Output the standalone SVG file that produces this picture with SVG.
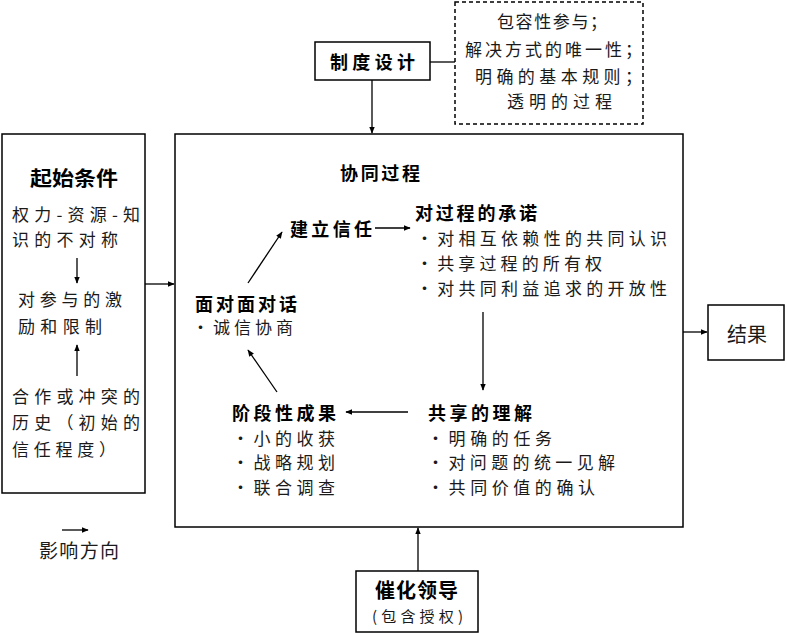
<svg xmlns="http://www.w3.org/2000/svg" width="787" height="633" viewBox="0 0 787 633">
<style>
text{font-family:"Noto Sans CJK SC","Noto Sans CJK JP",sans-serif;fill:#1a1a1a;font-size:17px}
.b{font-weight:bold;fill:#000;font-size:18px}
.box{fill:#fff;stroke:#000;stroke-width:1.5}
.ln{stroke:#000;stroke-width:1.3;fill:none}
</style>
<defs>
<marker id="ah" viewBox="0 0 10 10" refX="9" refY="5" markerWidth="7" markerHeight="7" markerUnits="userSpaceOnUse" orient="auto">
<path d="M0,1 L10,5 L0,9 Z" fill="#000"/>
</marker>
</defs>
<rect width="787" height="633" fill="#fff"/>

<g id="start-conditions">
<rect class="box" x="2" y="134" width="143" height="359"/>
<text class="b" x="30" y="186" style="font-size:20px" textLength="88" lengthAdjust="spacingAndGlyphs">起始条件</text>
<text x="12" y="221" textLength="128" lengthAdjust="spacing">权力-资源-知</text>
<text x="12" y="246" textLength="106" lengthAdjust="spacing">识的不对称</text>
<text x="18" y="306" textLength="104" lengthAdjust="spacing">对参与的激</text>
<text x="18" y="333" textLength="84" lengthAdjust="spacing">励和限制</text>
<text x="12" y="403" textLength="128" lengthAdjust="spacing">合作或冲突的</text>
<text x="12" y="429" textLength="128" lengthAdjust="spacing">历史（初始的</text>
<text x="12" y="456" textLength="104" lengthAdjust="spacing">信任程度）</text>
</g>

<g id="collaborative-process">
<rect class="box" x="175" y="134" width="508" height="393"/>
<text class="b" x="340" y="180" textLength="80" lengthAdjust="spacing">协同过程</text>
</g>

<g id="commitment">
<text class="b" x="415" y="220" textLength="122" lengthAdjust="spacing">对过程的承诺</text>
<text x="416" y="245" textLength="251" lengthAdjust="spacing">•对相互依赖性的共同认识</text>
<text x="416" y="270" textLength="186" lengthAdjust="spacing">•共享过程的所有权</text>
<text x="416" y="295" textLength="251" lengthAdjust="spacing">•对共同利益追求的开放性</text>
</g>

<g id="trust">
<text class="b" x="290" y="236" textLength="82" lengthAdjust="spacing">建立信任</text>
</g>

<g id="dialogue">
<text class="b" x="195" y="311" textLength="102" lengthAdjust="spacing">面对面对话</text>
<text x="192" y="334" textLength="101" lengthAdjust="spacing">•诚信协商</text>
</g>

<g id="outcomes">
<text class="b" x="232" y="420" textLength="104" lengthAdjust="spacing">阶段性成果</text>
<text x="232" y="445" textLength="103" lengthAdjust="spacing">•小的收获</text>
<text x="232" y="469" textLength="103" lengthAdjust="spacing">•战略规划</text>
<text x="232" y="494" textLength="103" lengthAdjust="spacing">•联合调查</text>
</g>

<g id="understanding">
<text class="b" x="428" y="420" textLength="104" lengthAdjust="spacing">共享的理解</text>
<text x="427" y="445" textLength="125" lengthAdjust="spacing">•明确的任务</text>
<text x="427" y="469" textLength="188" lengthAdjust="spacing">•对问题的统一见解</text>
<text x="427" y="494" textLength="168" lengthAdjust="spacing">•共同价值的确认</text>
</g>

<g id="institutional-design">
<rect class="box" x="315" y="42" width="115" height="38"/>
<text class="b" x="330" y="69" textLength="85" lengthAdjust="spacing">制度设计</text>
</g>

<g id="design-notes">
<rect x="455" y="2" width="188" height="122" fill="#fff" stroke="#000" stroke-width="1.5" stroke-dasharray="4,3"/>
<text x="497" y="28" textLength="110" lengthAdjust="spacing">包容性参与；</text>
<text x="465" y="56" textLength="177" lengthAdjust="spacing">解决方式的唯一性；</text>
<text x="475" y="83" textLength="167" lengthAdjust="spacing">明确的基本规则；</text>
<text x="507" y="108" textLength="105" lengthAdjust="spacing">透明的过程</text>
</g>

<g id="results">
<rect class="box" x="708" y="305" width="76" height="55"/>
<text x="727" y="342" style="font-size:20px" textLength="40" lengthAdjust="spacing">结果</text>
</g>

<g id="leadership">
<rect class="box" x="356" y="571" width="122" height="61"/>
<text class="b" x="375" y="598" style="font-size:20px" textLength="83" lengthAdjust="spacing">催化领导</text>
<text x="372" y="622" style="font-size:15px" textLength="91" lengthAdjust="spacing">(包含授权)</text>
</g>

<g id="legend">
<line class="ln" x1="62" y1="530" x2="88" y2="530" marker-end="url(#ah)"/>
<text x="39" y="558" style="font-size:19px" textLength="80" lengthAdjust="spacing">影响方向</text>
</g>

<g id="connectors">
<line class="ln" x1="145" y1="284" x2="174" y2="284" marker-end="url(#ah)"/>
<line class="ln" x1="430" y1="62" x2="455" y2="62"/>
<line class="ln" x1="372" y1="80" x2="372" y2="133" marker-end="url(#ah)"/>
<line class="ln" x1="683" y1="332" x2="707" y2="332" marker-end="url(#ah)"/>
<line class="ln" x1="418" y1="571" x2="418" y2="528" marker-end="url(#ah)"/>
<line class="ln" x1="77" y1="258" x2="77" y2="283" marker-end="url(#ah)"/>
<line class="ln" x1="77" y1="376" x2="77" y2="345" marker-end="url(#ah)"/>
<line class="ln" x1="248" y1="283" x2="282" y2="232" marker-end="url(#ah)"/>
<line class="ln" x1="375" y1="228" x2="410" y2="228" marker-end="url(#ah)"/>
<line class="ln" x1="483" y1="312" x2="483" y2="390" marker-end="url(#ah)"/>
<line class="ln" x1="408" y1="412" x2="346" y2="412" marker-end="url(#ah)"/>
<line class="ln" x1="277" y1="392" x2="248" y2="350" marker-end="url(#ah)"/>
</g>
</svg>
